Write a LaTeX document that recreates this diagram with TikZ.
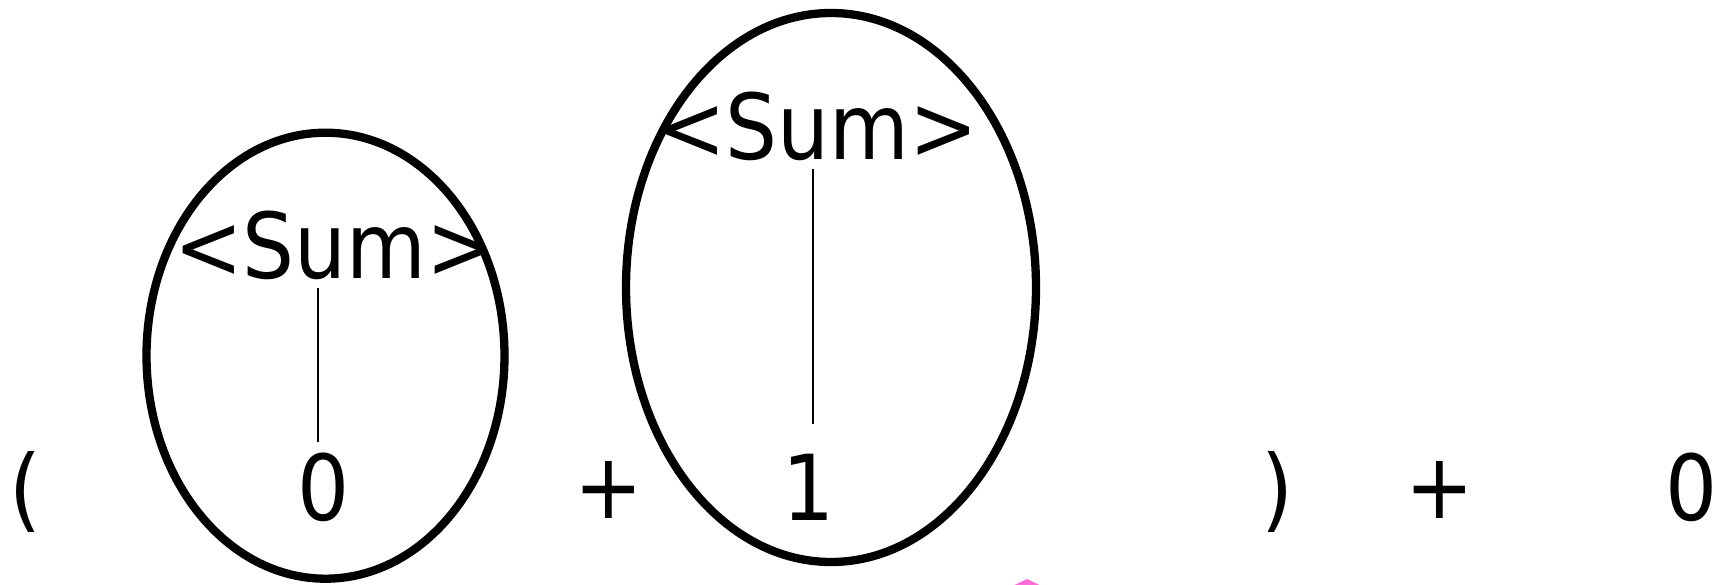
\documentclass[tikz,border=0pt]{standalone}
\usepackage{fontspec}
\setmainfont{DejaVu Sans Condensed}
\usetikzlibrary{shapes.geometric, positioning}

\begin{document}
\begin{tikzpicture}[
    x=1pt, y=-1pt,
    tok/.style={anchor=base, inner sep=0pt, outer sep=0pt, font=\fontsize{91}{91}\selectfont},
    group/.style={ellipse, draw, line width=8.3pt, inner sep=0pt},
    edge/.style={draw, line width=1.7pt},
    cursor/.style={fill={rgb,255:red,255;green,110;blue,214}}
]
\useasboundingbox (0,0) rectangle (1733,585);

\node [group, minimum width=358, minimum height=446] (groupA) at (325.5,355.7) {};
\node [group, minimum width=410, minimum height=549] (groupB) at (831,287.5) {};

\node [tok] (lparen) at (25,520.5) {(};
\node [tok] (zeroA) at (323.5,520.5) {0};
\node [tok] (plusA) at (609,518.5) {+};
\node [tok] (one) at (809,520.5) {1};
\node [tok] (rparen) at (1277.5,520.5) {)};
\node [tok] (plusB) at (1439.5,518.5) {+};
\node [tok] (zeroB) at (1691.5,520.5) {0};

\node [tok] (sumA) at (334.5,279) {<Sum>};
\node [tok] (sumB) at (817.5,160) {<Sum>};

\path [edge] ([xshift=-16.5pt, yshift=-8pt]sumA.south) -- ([xshift=-5.5pt, yshift=11pt]zeroA.north);
\path [edge] ([xshift=-4.5pt, yshift=-8pt]sumB.south) -- ([xshift=4pt, yshift=30pt]one.north);

\fill [cursor] (1027,579) -- (1052,591) -- (1002,591) -- cycle;

\end{tikzpicture}
\end{document}
